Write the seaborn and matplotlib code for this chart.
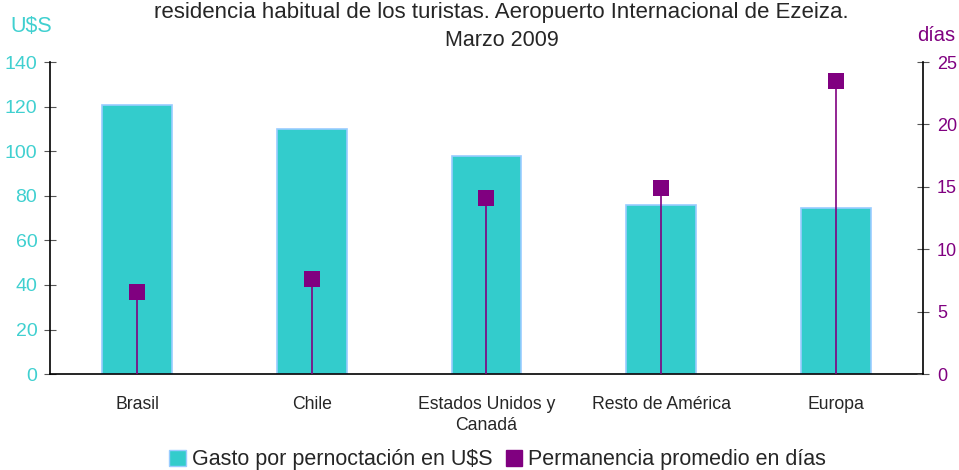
import numpy as np
import pandas as pd
import matplotlib
matplotlib.use("Agg")
import matplotlib.pyplot as plt
import seaborn as sns
from matplotlib.patches import Patch

categories = ["Brasil", "Chile", "Estados Unidos y\nCanadá", "Resto de América", "Europa"]
gasto = [120.7, 110.0, 97.8, 75.8, 74.5]
permanencia = [6.6, 7.6, 14.1, 14.9, 23.5]

TEAL = "#33CCCC"
PURPLE = "#800080"

sns.set_style("white")
plt.rcParams["font.family"] = ["Liberation Sans", "DejaVu Sans"]

df = pd.DataFrame({"pais": categories, "gasto": gasto, "dias": permanencia})

fig = plt.figure(figsize=(9.59, 4.70), dpi=100)
ax = fig.add_axes([0.052, 0.204, 0.9105, 0.664])

sns.barplot(data=df, x="pais", y="gasto", color=TEAL, saturation=1, width=0.4,
            edgecolor="#99CCFF", linewidth=1.2, ax=ax)
ax.set_ylim(0, 140)
ax.set_yticks(range(0, 141, 20))
ax.set_xlim(-0.5, len(categories) - 0.5)
ax.set_xlabel("")
ax.set_ylabel("")

ax2 = ax.twinx()
ax2.vlines(np.arange(len(categories)), 0, df["dias"], color=PURPLE, lw=1.2, zorder=3)
sns.scatterplot(x=np.arange(len(categories)), y=df["dias"], marker="s", s=130,
                color=PURPLE, edgecolor=PURPLE, linewidth=0, ax=ax2, zorder=4)
ax2.set_ylim(0, 25)
ax2.set_yticks(range(0, 26, 5))
ax2.set_ylabel("")

# category boundary ticks on x axis
ax.set_xticks(np.arange(len(categories)))
ax.set_xticklabels(categories, fontsize=12.7, linespacing=1.3)
ax.set_xticks(np.arange(len(categories) + 1) - 0.5, minor=True)
ax.tick_params(axis="x", which="major", length=0, pad=16)
ax.tick_params(axis="x", which="minor", length=8, direction="inout", color="#444444")
ax.tick_params(axis="y", labelsize=14, labelcolor="#40D0D0", length=8,
               direction="inout", color="#555555", pad=5)
ax2.tick_params(axis="y", labelsize=13, labelcolor=PURPLE, length=8,
                direction="inout", color="#555555", pad=6)

for a in (ax, ax2):
    for s in a.spines.values():
        s.set_visible(False)
ax.spines["left"].set_visible(True)
ax.spines["bottom"].set_visible(True)
ax2.spines["right"].set_visible(True)
for s in (ax.spines["left"], ax.spines["bottom"], ax2.spines["right"]):
    s.set_color("black")
    s.set_linewidth(1.2)

fig.text(0.523, 0.962, "residencia habitual de los turistas. Aeropuerto Internacional de Ezeiza.",
         ha="center", va="baseline", fontsize=16)
fig.text(0.523, 0.902, "Marzo 2009", ha="center", va="baseline", fontsize=15.5)
fig.text(0.033, 0.932, "U$S", ha="center", va="baseline", fontsize=15.5, color="#40D0D0")
fig.text(0.976, 0.912, "días", ha="center", va="baseline", fontsize=14.5, color=PURPLE)

handles = [Patch(facecolor=TEAL, edgecolor="#99CCFF", label="Gasto por pernoctación en U$S"),
           Patch(facecolor=PURPLE, edgecolor=PURPLE, label="Permanencia promedio en días")]
fig.legend(handles=handles, loc="center", bbox_to_anchor=(0.519, 0.022), ncol=2,
           frameon=False, fontsize=15.5, handlelength=0.75, handleheight=0.75,
           handletextpad=0.3, columnspacing=0.6, borderpad=0)

fig.savefig("out.png", dpi=100)
